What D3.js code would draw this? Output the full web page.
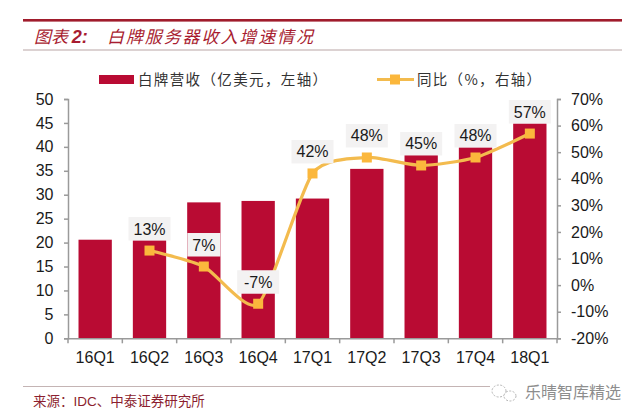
<!DOCTYPE html>
<html>
<head>
<meta charset="utf-8">
<script src="https://cdn.jsdelivr.net/npm/d3@7"></script>
<style>
  html, body { margin: 0; padding: 0; background: #fff; }
  svg { display: block; }
  text { font-family: "Liberation Sans", Arial, sans-serif; fill: #1a1a1a; }
  .cjk { font-family: "Noto Sans CJK SC", sans-serif; }
  .axis path, .axis line { stroke: #9a9a9a; stroke-width: 1.5; }
  .axis text { font-size: 16px; }
</style>
</head>
<body>
<svg id="chart" width="640" height="419"></svg>
<script>
// dati
const quarters = ["16Q1", "16Q2", "16Q3", "16Q4", "17Q1", "17Q2", "17Q3", "17Q4", "18Q1"];
const revenue = [20.6, 20.5, 28.4, 28.7, 29.2, 35.4, 38.4, 39.9, 44.9];
const growthQuarters = ["16Q2", "16Q3", "16Q4", "17Q1", "17Q2", "17Q3", "17Q4", "18Q1"];
const growth = [13, 7, -7, 42, 48, 45, 48, 57];
const leftTicks = [0, 5, 10, 15, 20, 25, 30, 35, 40, 45, 50];
const rightTicks = [-20, -10, 0, 10, 20, 30, 40, 50, 60, 70];

const red = "#b90b33";
const yellow = "#fbb73c";
const lineYellow = "#f3bb4e";

const svg = d3.select("#chart");
const plot = { left: 68, right: 557, top: 99, bottom: 338.3 };

const x = d3.scaleBand().domain(quarters).range([plot.left, plot.right]).paddingInner(0.387).paddingOuter(0.1935);
const band = d3.scaleBand().domain(quarters).range([plot.left, plot.right]);
const yLeft = d3.scaleLinear().domain([0, 50]).range([plot.bottom, plot.top]);
const yRight = d3.scaleLinear().domain([-20, 70]).range([plot.bottom, plot.top]);

// testata
svg.append("rect").attr("x", 23).attr("y", 19).attr("width", 599).attr("height", 2.6).attr("fill", "#a01c2c");
svg.append("rect").attr("x", 23).attr("y", 49.5).attr("width", 599).attr("height", 1).attr("fill", "#b9a5a5");
svg.append("text").attr("class", "cjk").attr("x", 34).attr("y", 42.5)
  .attr("font-size", 17).attr("font-style", "italic").style("fill", "#a81c30")
  .text("图表 ")
  .append("tspan").attr("font-family", "Liberation Sans").attr("font-weight", "bold").attr("font-size", 18).text("2:");
svg.append("text").attr("class", "cjk").attr("x", 107).attr("y", 42.5)
  .attr("font-size", 17).attr("font-style", "italic").attr("textLength", 206).style("fill", "#a81c30")
  .text("白牌服务器收入增速情况");

// legenda
svg.append("rect").attr("x", 99).attr("y", 75).attr("width", 35).attr("height", 9).attr("fill", red);
svg.append("text").attr("class", "cjk").attr("x", 138).attr("y", 84.5)
  .attr("font-size", 14.5).attr("textLength", 189).style("fill", "#333")
  .text("白牌营收（亿美元，左轴）");
svg.append("line").attr("x1", 377).attr("x2", 414).attr("y1", 79.5).attr("y2", 79.5)
  .attr("stroke", lineYellow).attr("stroke-width", 3);
svg.append("rect").attr("x", 390).attr("y", 74.5).attr("width", 10).attr("height", 10).attr("fill", yellow);
svg.append("text").attr("class", "cjk").attr("x", 417).attr("y", 84.5)
  .attr("font-size", 14.5).attr("textLength", 124).style("fill", "#333")
  .text("同比（%，右轴）");

// barre
svg.selectAll("rect.bar")
  .data(revenue)
  .join("rect")
  .attr("class", "bar")
  .attr("x", (d, i) => x(quarters[i]))
  .attr("y", d => yLeft(d))
  .attr("width", x.bandwidth())
  .attr("height", d => plot.bottom - yLeft(d))
  .attr("fill", red);

// assi
svg.append("g").attr("class", "axis").attr("transform", `translate(${plot.left},0)`)
  .call(d3.axisLeft(yLeft).tickValues(leftTicks).tickSize(4).tickPadding(4))
  .call(g => g.selectAll("text").attr("x", -14.5));
svg.append("g").attr("class", "axis").attr("transform", `translate(${plot.right},0)`)
  .call(d3.axisRight(yRight).tickValues(rightTicks).tickSize(4).tickPadding(10).tickFormat(d => d + "%"));
svg.append("g").attr("class", "axis").attr("transform", `translate(0,${plot.bottom})`)
  .call(d3.axisBottom(band).tickValues([]).tickSize(0));
svg.append("g").attr("class", "axis").attr("transform", `translate(0,${plot.bottom})`)
  .call(g => g.selectAll("line.sep")
    .data(d3.range(quarters.length + 1))
    .join("line").attr("class", "sep")
    .attr("x1", i => plot.left + i * band.step()).attr("x2", i => plot.left + i * band.step())
    .attr("y1", 0).attr("y2", 5))
  .call(g => g.selectAll("text.cat")
    .data(quarters)
    .join("text").attr("class", "cat")
    .attr("x", d => band(d) + band.bandwidth() / 2)
    .attr("y", 25).attr("text-anchor", "middle").text(d => d));

// linea
const cx = d => band(d) + band.bandwidth() / 2;
const line = d3.line()
  .x((d, i) => cx(growthQuarters[i]))
  .y(d => yRight(d))
  .curve(d3.curveCardinal.tension(0.35));
svg.append("path").datum(growth)
  .attr("d", line).attr("fill", "none")
  .attr("stroke", lineYellow).attr("stroke-width", 3.2);

// etichette
const labelW = d => (d >= 0 && d < 10) ? 33 : 42;
svg.selectAll("rect.lab")
  .data(growth)
  .join("rect").attr("class", "lab")
  .attr("x", (d, i) => cx(growthQuarters[i]) - labelW(d) / 2)
  .attr("y", d => yRight(d) - 33.5)
  .attr("width", labelW).attr("height", 23.5)
  .attr("fill", "#f3f2f2");
svg.selectAll("text.lab")
  .data(growth)
  .join("text").attr("class", "lab")
  .attr("x", (d, i) => cx(growthQuarters[i]))
  .attr("y", d => yRight(d) - 16)
  .attr("text-anchor", "middle").attr("font-size", 16)
  .text(d => d + "%");

// marcatori
svg.selectAll("rect.mark")
  .data(growth)
  .join("rect").attr("class", "mark")
  .attr("x", (d, i) => cx(growthQuarters[i]) - 5)
  .attr("y", d => yRight(d) - 5)
  .attr("width", 10).attr("height", 10)
  .attr("fill", yellow);

// piede
svg.append("rect").attr("x", 23).attr("y", 386).attr("width", 599).attr("height", 1).attr("fill", "#c4b4b4");
svg.append("text").attr("x", 33).attr("y", 406).attr("font-size", 13.5).style("fill", "#8c1f30")
  .html('<tspan class="cjk">来源：</tspan>IDC<tspan class="cjk">、中泰证券研究所</tspan>');

// filigrana
svg.append("rect").attr("x", 490).attr("y", 380).attr("width", 132).attr("height", 24).attr("fill", "#fff");
svg.append("ellipse").attr("cx", 499).attr("cy", 391).attr("rx", 7).attr("ry", 6)
  .attr("fill", "#fff").attr("stroke", "#b5b5b5").attr("stroke-dasharray", "2 1.5");
svg.append("ellipse").attr("cx", 510).attr("cy", 396).attr("rx", 6).attr("ry", 5)
  .attr("fill", "#fff").attr("stroke", "#b5b5b5").attr("stroke-dasharray", "2 1.5");
svg.append("text").attr("class", "cjk").attr("x", 525).attr("y", 398)
  .attr("font-size", 16).attr("textLength", 96).style("fill", "#8d8d8d")
  .text("乐晴智库精选");
</script>
</body>
</html>
